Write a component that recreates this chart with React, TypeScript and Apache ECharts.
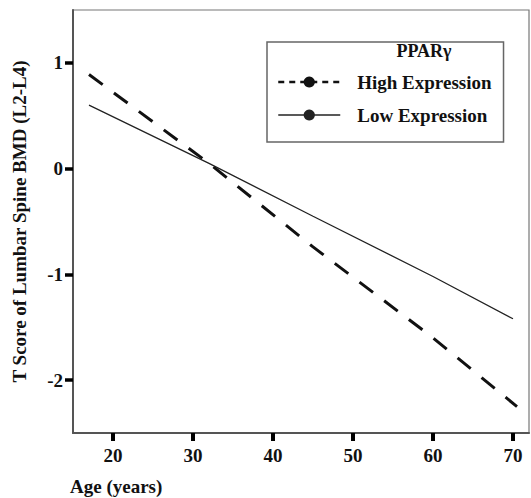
import React, { useEffect, useRef } from "react";
import * as echarts from "echarts";

const highAge = [17, 32, 45, 60, 70.5];
const highT = [0.89, 0.05, -0.74, -1.6, -2.25];
const lowAge = [17, 32, 45, 60, 70];
const lowT = [0.6, 0.05, -0.45, -1.02, -1.42];
const xTicks = [20, 30, 40, 50, 60, 70];
const yTicks = [-2, -1, 0, 1];
const seriesNames = ["High Expression", "Low Expression"];
const legendTitle = "PPARγ";
const xTitle = "Age (years)";
const yTitle = "T Score of Lumbar Spine BMD (L2-L4)";

const FONT = '"Liberation Serif", "Times New Roman", serif';

export default function App() {
  const ref = useRef<HTMLDivElement>(null);
  useEffect(() => {
    if (!ref.current) return;
    const chart = echarts.init(ref.current, null, { renderer: "svg" });
    const axisText = { fontFamily: FONT, fontWeight: "bold" as const, fontSize: 19, color: "#111" };
    chart.setOption({
      animation: false,
      title: [
        { text: xTitle, left: 70, top: 477, padding: 0, textStyle: { ...axisText } },
        { text: legendTitle, left: 424, top: 42, textAlign: "center", padding: 0, textStyle: { ...axisText, fontSize: 18 } },
      ],
      legend: {
        orient: "vertical",
        left: 267,
        top: 42,
        width: 235,
        padding: [30, 12, 17, 10],
        itemGap: 13,
        itemWidth: 62,
        itemHeight: 14,
        borderColor: "#666",
        borderWidth: 1.5,
        textStyle: { ...axisText, lineHeight: 20, padding: [0, 0, 0, 12] },
        data: [
          { name: seriesNames[0], lineStyle: { type: [6, 5], width: 2.5, color: "#111" } },
          { name: seriesNames[1], lineStyle: { width: 1.3, color: "#222" } },
        ],
      },
      grid: { left: 73, right: 2, top: 10, bottom: 65, show: true, borderColor: "#777", borderWidth: 1.2 },
      xAxis: {
        type: "value",
        min: 15,
        max: 72,
        axisLine: { show: true, onZero: false, lineStyle: { color: "#555", width: 2 } },
        axisTick: { show: true, customValues: xTicks, length: 8, lineStyle: { color: "#000", width: 4 } },
        axisLabel: { customValues: xTicks, margin: 13, ...axisText },
        splitLine: { show: false },
      },
      yAxis: {
        type: "value",
        min: -2.5,
        max: 1.5,
        name: yTitle,
        nameLocation: "middle",
        nameRotate: 90,
        nameGap: 44,
        nameTextStyle: { ...axisText },
        axisLine: { show: true, onZero: false, lineStyle: { color: "#555", width: 2 } },
        axisTick: { show: true, customValues: yTicks, length: 8, lineStyle: { color: "#000", width: 3.5 } },
        axisLabel: { customValues: yTicks, margin: 10, ...axisText },
        splitLine: { show: false },
      },
      series: [
        {
          name: seriesNames[0],
          type: "line",
          symbol: "none",
          data: highAge.map((a, i) => [a, highT[i]]),
          lineStyle: { color: "#111", width: 3, type: [17, 14] },
          itemStyle: { color: "#111" },
        },
        {
          name: seriesNames[1],
          type: "line",
          symbol: "none",
          data: lowAge.map((a, i) => [a, lowT[i]]),
          lineStyle: { color: "#222", width: 1.3 },
          itemStyle: { color: "#222" },
        },
      ],
    });
    return () => chart.dispose();
  }, []);
  return <div ref={ref} style={{ width: 531, height: 498, position: "absolute", left: 0, top: 0 }} />;
}
